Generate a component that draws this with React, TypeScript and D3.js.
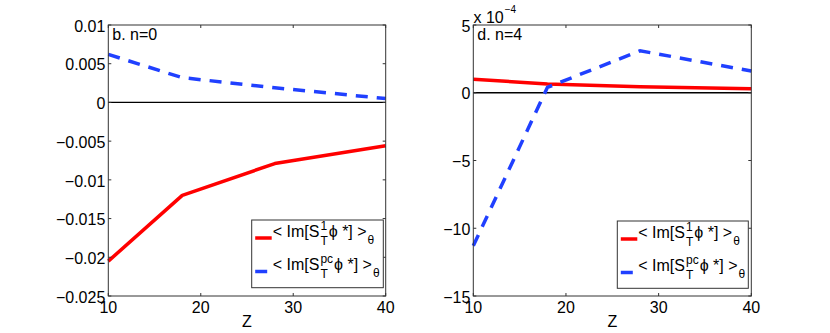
import React, { useEffect, useRef } from "react";
import * as d3 from "d3";

// Z positions shared by both panels
const zValues = [10, 18, 28, 40];

// panel b (n=0)
const n0Red = [-0.0205, -0.012, -0.0079, -0.0056];
const n0Blue = [0.0062, 0.0032, 0.0019, 0.0005];
const n0Ticks = [0.01, 0.005, 0, -0.005, -0.01, -0.015, -0.02, -0.025];

// panel d (n=4), values in units of 1e-4
const n4Red = [1.0, 0.65, 0.45, 0.3];
const n4Blue = [-11.3, 0.4, 3.1, 1.6];
const n4Ticks = [5, 0, -5, -10, -15];

const xTicks = [10, 20, 30, 40];

const FONT = "'Liberation Sans', Arial, Helvetica, sans-serif";
const RED = "#ff0000";
const BLUE = "#2040ff";
const DASH = "12,9";

const App = () => {
  const ref = useRef<SVGSVGElement>(null);

  useEffect(() => {
    const svg = d3.select(ref.current);
    svg.selectAll("*").remove();

    const top = 25;
    const bottom = 296;

    // helper: text element, returns its width
    const put = (g: any, x: number, y: number, s: string, size: number) => {
      const t = g
        .append("text")
        .attr("x", x)
        .attr("y", y)
        .style("font-family", FONT)
        .style("font-size", size + "px")
        .text(s);
      return (t.node() as SVGTextElement).getComputedTextLength();
    };

    const drawPanel = (
      left: number,
      right: number,
      red: number[],
      blue: number[],
      yDomain: [number, number],
      yTicks: number[],
      fmt: (d: number) => string,
      label: string,
      legend: { x0: number; x1: number; y0: number; y1: number }
    ) => {
      const g = svg.append("g");
      const x = d3.scaleLinear().domain([10, 40]).range([left, right]);
      const y = d3.scaleLinear().domain(yDomain).range([bottom, top]);

      // zero line
      g.append("line")
        .attr("x1", left)
        .attr("x2", right)
        .attr("y1", y(0))
        .attr("y2", y(0))
        .attr("stroke", "#000")
        .attr("stroke-width", 1.3);

      const line = d3
        .line<number>()
        .x((_, i) => x(zValues[i]))
        .y((d) => y(d));

      g.append("path")
        .datum(red)
        .attr("d", line)
        .attr("fill", "none")
        .attr("stroke", RED)
        .attr("stroke-width", 3.5)
        .attr("stroke-linejoin", "round");

      g.append("path")
        .datum(blue)
        .attr("d", line)
        .attr("fill", "none")
        .attr("stroke", BLUE)
        .attr("stroke-width", 3.5)
        .attr("stroke-dasharray", DASH);

      // box
      g.append("rect")
        .attr("x", left)
        .attr("y", top)
        .attr("width", right - left)
        .attr("height", bottom - top)
        .attr("fill", "none")
        .attr("stroke", "#333")
        .attr("stroke-width", 1);

      // ticks inward on all sides
      const tl = 3;
      yTicks.forEach((t) => {
        g.append("line").attr("x1", left).attr("x2", left + tl).attr("y1", y(t)).attr("y2", y(t)).attr("stroke", "#333");
        g.append("line").attr("x1", right).attr("x2", right - tl).attr("y1", y(t)).attr("y2", y(t)).attr("stroke", "#333");
        g.append("text")
          .attr("x", left - 3)
          .attr("y", y(t))
          .attr("dy", "0.42em")
          .attr("text-anchor", "end")
          .style("font-family", FONT)
          .style("font-size", "16px")
          .text(fmt(t));
      });
      xTicks.forEach((t) => {
        g.append("line").attr("x1", x(t)).attr("x2", x(t)).attr("y1", bottom).attr("y2", bottom - tl).attr("stroke", "#333");
        g.append("line").attr("x1", x(t)).attr("x2", x(t)).attr("y1", top).attr("y2", top + tl).attr("stroke", "#333");
        g.append("text")
          .attr("x", x(t))
          .attr("y", 313)
          .attr("text-anchor", "middle")
          .style("font-family", FONT)
          .style("font-size", "16px")
          .text(String(t));
      });

      // axis label
      g.append("text")
        .attr("x", (left + right) / 2)
        .attr("y", 327)
        .attr("text-anchor", "middle")
        .style("font-family", FONT)
        .style("font-size", "16px")
        .text("Z");

      // panel label
      put(g, left + 4, 39.5, label, 16);

      // legend
      g.append("rect")
        .attr("x", legend.x0)
        .attr("y", legend.y0)
        .attr("width", legend.x1 - legend.x0)
        .attr("height", legend.y1 - legend.y0)
        .attr("fill", "#fff")
        .attr("stroke", "#333")
        .attr("stroke-width", 1);

      const entries = [
        { color: RED, dash: null, sup: "1", base: 16.5 },
        { color: BLUE, dash: DASH, sup: "pc", base: 50 },
      ];
      entries.forEach((e) => {
        const base = legend.y0 + e.base;
        g.append("line")
          .attr("x1", legend.x0 + 3.5)
          .attr("x2", legend.x0 + 20)
          .attr("y1", base + 1.5)
          .attr("y2", base + 1.5)
          .attr("stroke", e.color)
          .attr("stroke-width", 3.5)
          .attr("stroke-dasharray", e.dash);
        let cx = legend.x0 + 21;
        cx += put(g, cx, base, "< Im[S", 16) + 1;
        const ws = put(g, cx, base - 7, e.sup, 12);
        const wt = put(g, cx, base + 8, "T", 12);
        cx += Math.max(ws, wt) + 1;
        cx += put(g, cx, base, "ϕ *] >", 16) + 1;
        put(g, cx, base + 7, "θ", 12);
      });
    };

    drawPanel(
      108.3,
      385.7,
      n0Red,
      n0Blue,
      [-0.025, 0.01],
      n0Ticks,
      (d) => (d === 0 ? "0" : String(d).replace("-", "−")),
      "b. n=0",
      { x0: 251.7, x1: 383.3, y0: 220, y1: 287.7 }
    );

    drawPanel(
      473.3,
      751.3,
      n4Red,
      n4Blue,
      [-15, 5],
      n4Ticks,
      (d) => String(d).replace("-", "−"),
      "d. n=4",
      { x0: 617.3, x1: 748.3, y0: 221, y1: 288.3 }
    );

    // exponent label for right panel
    const g = svg.append("g");
    const w = put(g, 473.5, 22.5, "x 10", 16);
    put(g, 473.5 + w + 1, 13, "−4", 10);
  }, []);

  return (
    <svg
      ref={ref}
      width={830}
      height={333}
      style={{ position: "absolute", left: 0, top: 0, background: "#fff" }}
    />
  );
};

export default App;
